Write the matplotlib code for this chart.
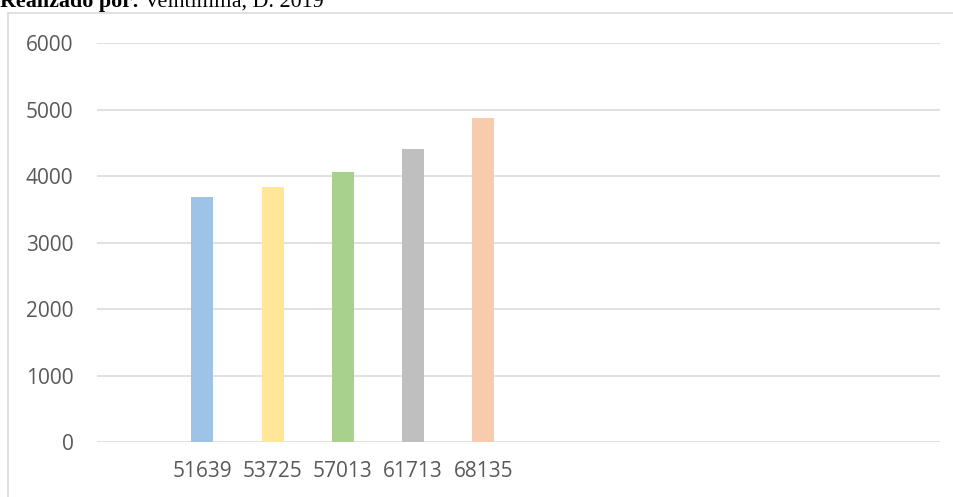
import matplotlib.pyplot as plt
from matplotlib.lines import Line2D

# slot positions on the category axis (12 slots, most of them empty)
n_slots = 12
positions = [1, 2, 3, 4, 5]
labels = ['51639', '53725', '57013', '61713', '68135']
values = [3680, 3830, 4055, 4400, 4865]
colors = ['#9dc3e6', '#ffe699', '#a9d18e', '#bfbfbf', '#f8cbad']
yticks = [0, 1000, 2000, 3000, 4000, 5000, 6000]

fig = plt.figure(figsize=(9.54, 4.97), dpi=100)
ax = fig.add_axes([97 / 954, 1 - 442 / 497, 843 / 954, 399 / 497])

ax.bar(positions, values, width=0.31, color=colors, zorder=3)

ax.set_xlim(-0.5, n_slots - 0.5)
ax.set_ylim(0, 6000)
ax.set_yticks(yticks)
ax.set_xticks(positions)
ax.set_xticklabels(labels)
ax.grid(axis='y', color='#d9d9d9', linewidth=1.1, zorder=0)
ax.tick_params(length=0, colors='#595959', labelsize=15)
ax.tick_params(axis='y', pad=17)
ax.tick_params(axis='x', pad=14)
for lbl in ax.get_xticklabels() + ax.get_yticklabels():
    lbl.set_fontfamily('Open Sans')
for s in ax.spines.values():
    s.set_visible(False)

# chart frame: only its left and top edges fall inside the image
fig.add_artist(Line2D([8 / 954, 8 / 954], [0, 1 - 13 / 497], color='#d9d9d9', lw=1.1))
fig.add_artist(Line2D([8 / 954, 1], [1 - 13 / 497, 1 - 13 / 497], color='#d9d9d9', lw=1.1))

# source line above the frame
t1 = fig.text(0, 1 - 7 / 497, 'Realizado por:', family='Liberation Serif',
              weight='bold', fontsize=15.8, va='baseline', ha='left')
ax.annotate(' Veintimilla, D. 2019', xy=(1, 0), xycoords=t1, va='bottom', ha='left',
            family='Liberation Serif', fontsize=15.8, annotation_clip=False)

fig.savefig('out.png', dpi=100)
